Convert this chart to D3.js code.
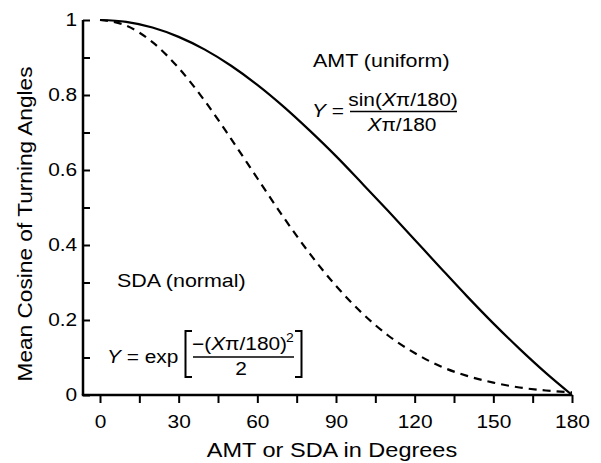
<!DOCTYPE html>
<html>
<head>
<meta charset="utf-8">
<script src="https://cdn.jsdelivr.net/npm/d3@7"></script>
<style>
  body { margin: 0; background: #fff; }
  text { font-family: "Liberation Sans", Arial, Helvetica, sans-serif; fill: #000; }
</style>
</head>
<body>
<div id="chart"></div>
<script>
// values, every 10 degrees
var degrees = [0, 10, 20, 30, 40, 50, 60, 70, 80, 90, 100, 110, 120, 130, 140, 150, 160, 170, 180];
var amtUniform = [1, 0.995, 0.980, 0.955, 0.921, 0.878, 0.827, 0.769, 0.705, 0.637, 0.564, 0.490, 0.414, 0.338, 0.263, 0.191, 0.123, 0.059, 0];
var sdaNormal = [1, 0.985, 0.941, 0.872, 0.784, 0.683, 0.578, 0.474, 0.377, 0.291, 0.218, 0.158, 0.112, 0.076, 0.051, 0.033, 0.020, 0.012, 0.007];

var xTickValues = [0, 15, 30, 45, 60, 75, 90, 105, 120, 135, 150, 165, 180];
var xTickLabels = ["0", "", "30", "", "60", "", "90", "", "120", "", "150", "", "180"];
var yTickValues = [0, 0.1, 0.2, 0.3, 0.4, 0.5, 0.6, 0.7, 0.8, 0.9, 1];
var yTickLabels = ["0", "", "0.2", "", "0.4", "", "0.6", "", "0.8", "", "1"];

var W = 601, H = 463;
var SX = 1.16; // the scanned lettering is a bit wider than Arial

var svg = d3.select("#chart")
  .append("svg")
    .attr("width", W)
    .attr("height", H);

var x = d3.scaleLinear().domain([0, 180]).range([100, 572]);
var y = d3.scaleLinear().domain([0, 1]).range([395, 20]);

// axes lines
svg.append("line")
  .attr("x1", 83).attr("x2", 83)
  .attr("y1", y(1)).attr("y2", y(0))
  .attr("stroke", "#000").attr("stroke-width", 2.5);
svg.append("line")
  .attr("x1", 83 - 1.2).attr("x2", x(180))
  .attr("y1", y(0)).attr("y2", y(0))
  .attr("stroke", "#000").attr("stroke-width", 2.5);

// x axis ticks
var xAxis = svg.append("g")
  .attr("transform", "translate(0," + y(0) + ")")
  .call(d3.axisBottom(x)
    .tickValues(xTickValues)
    .tickFormat(function(d, i) { return xTickLabels[i]; })
    .tickSize(8)
    .tickPadding(12));
xAxis.select(".domain").remove();
xAxis.selectAll(".tick line").attr("stroke-width", 2);
xAxis.selectAll(".tick text")
  .style("font-size", "18px")
  .attr("transform", "scale(" + SX + ",1)");

// y axis ticks point inward
var yAxis = svg.append("g")
  .attr("transform", "translate(83,0)")
  .call(d3.axisLeft(y)
    .tickValues(yTickValues)
    .tickFormat(function(d, i) { return yTickLabels[i]; })
    .tickSize(-7)
    .tickPadding(5));
yAxis.select(".domain").remove();
yAxis.selectAll(".tick line").attr("stroke-width", 2);
yAxis.selectAll(".tick text")
  .style("font-size", "18px")
  .attr("transform", "scale(" + SX + ",1)");
svg.selectAll(".tick text").attr("fill", "#000");
svg.selectAll("g[font-family]").attr("font-family", null);

// curves
var line = d3.line()
  .x(function(d, i) { return x(degrees[i]); })
  .y(function(d) { return y(d); })
  .curve(d3.curveMonotoneX);

svg.append("path")
  .attr("d", line(amtUniform))
  .attr("fill", "none")
  .attr("stroke", "#000")
  .attr("stroke-width", 2.2);

svg.append("path")
  .attr("d", line(sdaNormal))
  .attr("fill", "none")
  .attr("stroke", "#000")
  .attr("stroke-width", 2.2)
  .attr("stroke-dasharray", "8,6");

// text helper: stretched horizontally around its anchor point
function label(px, py, size, anchor, rot, sx) {
  var g = svg.append("g")
    .attr("transform", "translate(" + px + "," + py + ")" + (rot ? " rotate(" + rot + ")" : "") + " scale(" + (sx || SX) + ",1)");
  return g.append("text")
    .attr("text-anchor", anchor || "start")
    .style("font-size", size + "px");
}

// axis titles
label(332, 457, 21, "middle", 0, 1.12).text("AMT or SDA in Degrees");
label(32, 224, 21, "middle", -90, 1.08).text("Mean Cosine of Turning Angles");

// annotations
label(313, 67, 18.5, "start").text("AMT (uniform)");
label(117, 287, 18.5, "start").text("SDA (normal)");

// upper formula
var t1 = label(312, 117, 18, "start");
t1.append("tspan").style("font-style", "italic").text("Y");
t1.append("tspan").text(" =");
var n1 = label(403, 106, 18, "middle");
n1.append("tspan").text("sin(");
n1.append("tspan").style("font-style", "italic").text("X");
n1.append("tspan").text("\u03c0/180)");
svg.append("line")
  .attr("x1", 350).attr("x2", 457)
  .attr("y1", 111.5).attr("y2", 111.5)
  .attr("stroke", "#000").attr("stroke-width", 1.5);
var d1 = label(402, 131, 18, "middle");
d1.append("tspan").style("font-style", "italic").text("X");
d1.append("tspan").text("\u03c0/180");

// lower formula
var t2 = label(107, 363, 18, "start");
t2.append("tspan").style("font-style", "italic").text("Y");
t2.append("tspan").text(" = exp");
svg.append("path")
  .attr("d", "M192,331 H185.5 V377 H192")
  .attr("fill", "none").attr("stroke", "#000").attr("stroke-width", 2);
svg.append("path")
  .attr("d", "M295,331 H301.5 V377 H295")
  .attr("fill", "none").attr("stroke", "#000").attr("stroke-width", 2);
var n2 = label(192, 350, 18, "start");
n2.append("tspan").text("\u2212(");
n2.append("tspan").style("font-style", "italic").text("X");
n2.append("tspan").text("\u03c0/180)");
label(286, 342, 12, "start").text("2");
svg.append("line")
  .attr("x1", 193).attr("x2", 294)
  .attr("y1", 357).attr("y2", 357)
  .attr("stroke", "#000").attr("stroke-width", 1.5);
label(241, 375, 18, "middle").text("2");
</script>
</body>
</html>
